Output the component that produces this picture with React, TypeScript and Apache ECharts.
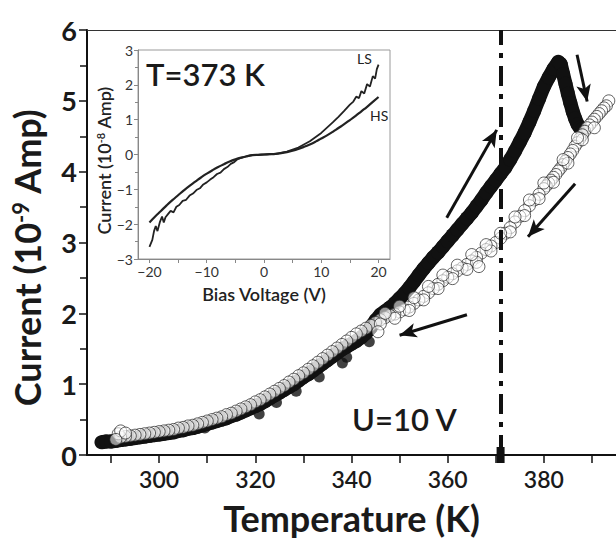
import React, { useEffect, useRef } from "react";
import * as echarts from "echarts";

// ---------- data ----------
const tempTickValues = [290, 300, 310, 320, 330, 340, 350, 360, 370, 380, 390];
const tempLabelValues = [300, 320, 340, 360, 380];
const biasTickValues = [-20, -15, -10, -5, 0, 5, 10, 15, 20];
const biasLabelValues = [-20, -10, 0, 10, 20];

// heating run (filled circles): [T (K), I (1e-9 A)]
const heating: [number, number][] = [
  [288, 0.18], [289, 0.19], [290, 0.19], [291, 0.2], [292, 0.21], [293, 0.22], [294, 0.23], [295, 0.24],
  [296, 0.25], [297, 0.26], [298, 0.27], [299, 0.28], [300, 0.29], [301, 0.3], [302, 0.31], [303, 0.32],
  [304, 0.34], [305, 0.35], [306, 0.37], [307, 0.38], [308, 0.4], [309, 0.42], [310, 0.44], [311, 0.46],
  [312, 0.48], [313, 0.5], [314, 0.52], [315, 0.55], [316, 0.57], [317, 0.6], [318, 0.63], [319, 0.66],
  [320, 0.69], [321, 0.72], [322, 0.76], [323, 0.8], [324, 0.84], [325, 0.88], [326, 0.92], [327, 0.96],
  [328, 1.0], [329, 1.05], [330, 1.1], [331, 1.14], [332, 1.19], [333, 1.24], [334, 1.29], [335, 1.34],
  [336, 1.39], [337, 1.44], [338, 1.49], [339, 1.53], [340, 1.57], [341, 1.61], [342, 1.66], [343, 1.72],
  [344, 1.8], [345, 1.9], [346, 1.98], [347, 2.03], [348, 2.08], [349, 2.14], [350, 2.21], [351, 2.28],
  [352, 2.36], [353, 2.45], [354, 2.54], [355, 2.63], [356, 2.71], [357, 2.79], [358, 2.86], [359, 2.94],
  [360, 3.02], [361, 3.1], [362, 3.18], [363, 3.26], [364, 3.34], [365, 3.42], [366, 3.51], [367, 3.6],
  [368, 3.7], [369, 3.79], [370, 3.88], [371, 3.97], [372, 4.06], [373, 4.17], [374, 4.29], [375, 4.42],
  [376, 4.55], [377, 4.7], [378, 4.86], [379, 5.03], [380, 5.2], [381, 5.33], [382, 5.45], [383, 5.55],
  [383.5, 5.52], [384, 5.38], [384.5, 5.24], [385, 5.1], [385.5, 4.97], [386, 4.85], [386.5, 4.75],
  [387, 4.67], [387.5, 4.62], [388, 4.6],
];

// isolated filled points hanging below the heating band
const heatingStray: [number, number][] = [
  [309.5, 0.38], [320.8, 0.58], [324.4, 0.74], [328.5, 0.9], [333.3, 1.1], [338.1, 1.3], [339, 1.38], [343.7, 1.6],
];

// cooling run (open circles)
const cooling: [number, number][] = [
  [393.5, 5.0], [393, 4.93], [392.5, 4.9], [392, 4.86], [391.5, 4.82], [391, 4.78], [390.5, 4.74], [390, 4.7],
  [389.5, 4.66], [389, 4.62], [388.5, 4.57], [388, 4.52], [387.5, 4.47], [387, 4.41], [386.5, 4.36], [386, 4.3],
  [385.5, 4.25], [385, 4.2], [384.5, 4.15], [384, 4.1], [383.5, 4.05], [383, 4.01], [382.5, 3.96], [382, 3.92],
  [381.5, 3.88], [381, 3.84], [380.5, 3.8], [380, 3.76], [379, 3.68], [378, 3.6], [377, 3.52], [376, 3.45],
  [375, 3.37], [374, 3.29], [373, 3.21], [372, 3.13], [371, 3.06], [370, 3.0], [369, 2.95], [368, 2.9],
  [367, 2.85], [366, 2.79], [365, 2.74], [364, 2.69], [363, 2.64], [362, 2.6], [361, 2.56], [360, 2.51],
  [359, 2.46], [358, 2.41], [357, 2.35], [356, 2.29], [355, 2.24], [354, 2.19], [353, 2.14], [352, 2.09],
  [351, 2.05], [350, 2.02], [349, 1.99], [348, 1.97], [347, 1.94], [346, 1.91], [345, 1.87], [344, 1.83],
  [343, 1.79], [342, 1.75], [341, 1.71], [340, 1.66], [339, 1.61], [338, 1.56], [337, 1.51], [336, 1.46],
  [335, 1.41], [334, 1.36], [333, 1.31], [332, 1.26], [331, 1.21], [330, 1.16], [329, 1.12], [328, 1.07],
  [327, 1.03], [326, 0.98], [325, 0.94], [324, 0.9], [323, 0.86], [322, 0.82], [321, 0.78], [320, 0.75],
  [319, 0.71], [318, 0.68], [317, 0.65], [316, 0.62], [315, 0.59], [314, 0.57], [313, 0.54], [312, 0.52],
  [311, 0.5], [310, 0.48], [309, 0.46], [308, 0.44], [307, 0.42], [306, 0.41], [305, 0.39], [304, 0.38],
  [303, 0.36], [302, 0.35], [301, 0.34], [300, 0.33], [299, 0.32], [298, 0.31], [297, 0.3], [296, 0.29],
  [295, 0.28], [294, 0.27], [293, 0.26], [292, 0.25], [291.5, 0.3], [292, 0.34], [291, 0.22], [293, 0.31],
  // spread of the open-circle band
  [390.5, 4.62], [388, 4.45], [385, 4.12], [382, 3.85], [379, 3.62], [376, 3.38], [373, 3.15], [369, 2.88],
  [366, 2.72], [364, 2.62], [361, 2.49], [358, 2.35], [355, 2.19], [352, 2.04], [349, 1.93], [346, 1.85],
  [387, 4.48], [384, 4.17], [380, 3.84], [377, 3.6], [374, 3.36], [371, 3.13], [368, 2.97], [365, 2.83],
  [362, 2.68], [359, 2.54], [356, 2.38], [353, 2.22], [350, 2.1], [347, 2.0], [345.5, 1.74], [366.5, 2.66],
];

// inset: I-V at 373 K, [V, I (1e-8 A)]
const ivHS: [number, number][] = [
  [-20, -1.95], [-19, -1.78], [-18, -1.62], [-17, -1.46], [-16, -1.31], [-15, -1.17], [-14, -1.03], [-13, -0.9],
  [-12, -0.78], [-11, -0.66], [-10, -0.55], [-9, -0.45], [-8, -0.36], [-7, -0.28], [-6, -0.2], [-5, -0.14],
  [-4, -0.09], [-3, -0.05], [-2, -0.02], [-1, -0.01], [0, 0], [1, 0.01], [2, 0.02], [3, 0.04], [4, 0.07],
  [5, 0.11], [6, 0.16], [7, 0.22], [8, 0.29], [9, 0.37], [10, 0.46], [11, 0.55], [12, 0.65], [13, 0.76],
  [14, 0.87], [15, 0.99], [16, 1.11], [17, 1.24], [18, 1.37], [19, 1.51], [20, 1.65],
];
const ivLS: [number, number][] = [
  [-20, -2.65], [-19.5, -2.45], [-19.2, -2.2], [-18.9, -2.05], [-18.6, -2.2], [-18.2, -1.95], [-17.8, -1.78],
  [-17.5, -1.95], [-17.2, -1.8], [-16.8, -1.72], [-16.3, -1.62], [-15.8, -1.66], [-15.3, -1.5], [-14.8, -1.45],
  [-14.2, -1.33], [-13.6, -1.3], [-13, -1.18], [-12.4, -1.12], [-11.8, -1.02], [-11.2, -0.97], [-10.6, -0.86],
  [-10, -0.8], [-9.4, -0.72], [-8.8, -0.65], [-8.2, -0.56], [-7.6, -0.52], [-7, -0.42], [-6.4, -0.36],
  [-5.8, -0.27], [-5.2, -0.22], [-4.6, -0.13], [-4, -0.1], [-3, -0.05], [-2, -0.02], [0, 0], [2, 0.02],
  [4, 0.08], [6, 0.2], [8, 0.38], [10, 0.62], [12, 0.92], [13, 1.08], [14, 1.25], [15, 1.43], [15.6, 1.52],
  [16.1, 1.66], [16.6, 1.62], [17, 1.82], [17.5, 1.75], [18, 2.02], [18.5, 1.95], [19, 2.25], [19.4, 2.18],
  [19.7, 2.45], [20, 2.58],
];

const transitionT = 371;
// arrows: [start, end] in (T, I)
const arrows: [[number, number], [number, number]][] = [
  [[359.8, 3.35], [370.2, 4.59]],
  [[386.9, 5.65], [389.0, 4.99]],
  [[386.5, 3.83], [376.7, 3.08]],
  [[364.0, 1.98], [350.0, 1.69]],
];

const FONT = "Lato, 'Open Sans', sans-serif";

export default function App() {
  const ref = useRef<HTMLDivElement>(null);
  useEffect(() => {
    document.body.style.margin = "0";
    if (!ref.current) return;
    const chart = echarts.init(ref.current, undefined, { renderer: "svg" });
    const minus = (v: number) => String(v).replace("-", "\u2212");
    const option: any = {
      animation: false,
      backgroundColor: "#fff",
      grid: [
        { left: 87, top: 30, right: 0, bottom: 87, containLabel: false, outerBoundsMode: "none" },
        {
          left: 138, top: 50, width: 252, height: 209, containLabel: false, outerBoundsMode: "none",
          show: true, borderColor: "#9a9a9a", borderWidth: 1, backgroundColor: "rgba(0,0,0,0)",
        },
      ],
      xAxis: [
        {
          type: "value", gridIndex: 0, min: 285, max: 395,
          name: "Temperature (K)", nameLocation: "middle", nameGap: 45,
          nameTextStyle: { fontFamily: FONT, fontSize: 36, fontWeight: "bold", color: "#1a1a1a" },
          axisLine: { show: true, onZero: false, lineStyle: { color: "#111", width: 2 } },
          axisTick: { show: true, inside: false, length: 8, lineStyle: { color: "#111", width: 1.5 }, customValues: tempTickValues },
          axisLabel: { show: true, customValues: tempLabelValues, margin: 12, fontFamily: FONT, fontSize: 23, fontWeight: 600, color: "#1a1a1a" },
          splitLine: { show: false },
        },
        {
          type: "value", gridIndex: 0, min: 285, max: 395, position: "top",
          axisLine: { show: true, onZero: false, lineStyle: { color: "#333", width: 1 } },
          axisTick: { show: false }, axisLabel: { show: false }, splitLine: { show: false },
        },
        {
          type: "value", gridIndex: 1, min: -22, max: 22,
          name: "Bias Voltage (V)", nameLocation: "middle", nameGap: 26,
          nameTextStyle: { fontFamily: FONT, fontSize: 18, fontWeight: 600, color: "#222" },
          axisLine: { show: true, onZero: false, lineStyle: { color: "#888", width: 1 } },
          axisTick: { show: true, length: 4, lineStyle: { color: "#888" }, customValues: biasTickValues },
          axisLabel: { show: true, customValues: biasLabelValues, formatter: minus, margin: 5, fontFamily: FONT, fontSize: 14, color: "#333" },
          splitLine: { show: false },
        },
      ],
      yAxis: [
        {
          type: "value", gridIndex: 0, min: 0, max: 6, interval: 1,
          name: "{a|Current (10}{s|-9}{a| Amp)}", nameLocation: "middle", nameRotate: 90, nameGap: 42,
          nameTextStyle: {
            fontFamily: FONT, fontSize: 36, fontWeight: "bold", color: "#1a1a1a", padding: [0, 30, 0, 0],
            rich: {
              a: { fontFamily: FONT, fontSize: 36, fontWeight: "bold", color: "#1a1a1a" },
              s: { fontFamily: FONT, fontSize: 22, fontWeight: "bold", color: "#1a1a1a", verticalAlign: "top" },
            },
          },
          axisLine: { show: true, onZero: false, lineStyle: { color: "#111", width: 2 } },
          axisTick: { show: true, inside: false, length: 8, lineStyle: { color: "#111", width: 1.5 } },
          minorTick: { show: true, splitNumber: 2, length: 7, lineStyle: { color: "#111", width: 1.5 } },
          axisLabel: { show: true, margin: 10, fontFamily: FONT, fontSize: 27, fontWeight: "bold", color: "#1a1a1a" },
          splitLine: { show: false }, minorSplitLine: { show: false },
        },
        {
          type: "value", gridIndex: 1, min: -3, max: 3, interval: 1,
          name: "{a|Current (10}{s|-8}{a| Amp)}", nameLocation: "middle", nameRotate: 90, nameGap: 22,
          nameTextStyle: {
            fontFamily: FONT, fontSize: 18, color: "#222", padding: [0, 12, 0, 0],
            rich: {
              a: { fontFamily: FONT, fontSize: 18, fontWeight: 600, color: "#222" },
              s: { fontFamily: FONT, fontSize: 11, fontWeight: 600, color: "#222", verticalAlign: "top" },
            },
          },
          axisLine: { show: true, onZero: false, lineStyle: { color: "#888", width: 1 } },
          axisTick: { show: true, length: 4, lineStyle: { color: "#888" } },
          minorTick: { show: true, splitNumber: 2, length: 3, lineStyle: { color: "#888" } },
          axisLabel: { show: true, formatter: minus, margin: 5, fontFamily: FONT, fontSize: 14, color: "#333" },
          splitLine: { show: false }, minorSplitLine: { show: false },
        },
      ],
      series: [
        {
          name: "heating", type: "line", xAxisIndex: 0, yAxisIndex: 0, data: heating,
          symbol: "circle", symbolSize: 14, showSymbol: true, z: 3,
          lineStyle: { color: "#111", width: 14 }, itemStyle: { color: "#111" },
        },
        {
          name: "heatingStray", type: "scatter", xAxisIndex: 0, yAxisIndex: 0, data: heatingStray,
          symbol: "circle", symbolSize: 11, z: 3, itemStyle: { color: "#111" },
        },
        {
          name: "cooling", type: "scatter", xAxisIndex: 0, yAxisIndex: 0, data: cooling,
          symbol: "circle", symbolSize: 12, z: 4,
          itemStyle: { color: "rgba(255,255,255,0.7)", borderColor: "#222", borderWidth: 0.9 },
          markLine: {
            silent: true, symbol: ["none", "none"], animation: false,
            label: { show: false },
            data: [
              { xAxis: transitionT, lineStyle: { color: "#111", width: 4, type: [20, 8, 5, 8] }, symbol: ["none", "none"] },
              ...arrows.map(([s, e]) => [
                { coord: s, symbol: "none", lineStyle: { color: "#111", width: 3, type: "solid" } },
                { coord: e, symbol: "arrow", symbolSize: [11, 17] },
              ]),
            ],
          },
        },
        {
          name: "HS", type: "line", xAxisIndex: 2, yAxisIndex: 1, data: ivHS, smooth: true,
          showSymbol: false, symbol: "none", lineStyle: { color: "#222", width: 2.2 },
        },
        {
          name: "LS", type: "line", xAxisIndex: 2, yAxisIndex: 1, data: ivLS,
          showSymbol: false, symbol: "none", lineStyle: { color: "#222", width: 1.8 },
        },
      ],
      graphic: [
        { type: "text", x: 146, y: 74, style: { text: "T=373 K", font: `600 31px ${FONT}`, fill: "#1a1a1a", textVerticalAlign: "middle", verticalAlign: "middle" } },
        { type: "text", x: 352, y: 419, style: { text: "U=10 V", font: `600 31px ${FONT}`, fill: "#1a1a1a", textVerticalAlign: "middle", verticalAlign: "middle" } },
        { type: "text", x: 357, y: 58, style: { text: "LS", font: `14px ${FONT}`, fill: "#222", textVerticalAlign: "middle", verticalAlign: "middle" } },
        { type: "text", x: 370, y: 115, style: { text: "HS", font: `14px ${FONT}`, fill: "#222", textVerticalAlign: "middle", verticalAlign: "middle" } },
      ],
    };
    chart.setOption(option);
    return () => chart.dispose();
  }, []);
  return <div ref={ref} style={{ width: 616, height: 542 }} />;
}
